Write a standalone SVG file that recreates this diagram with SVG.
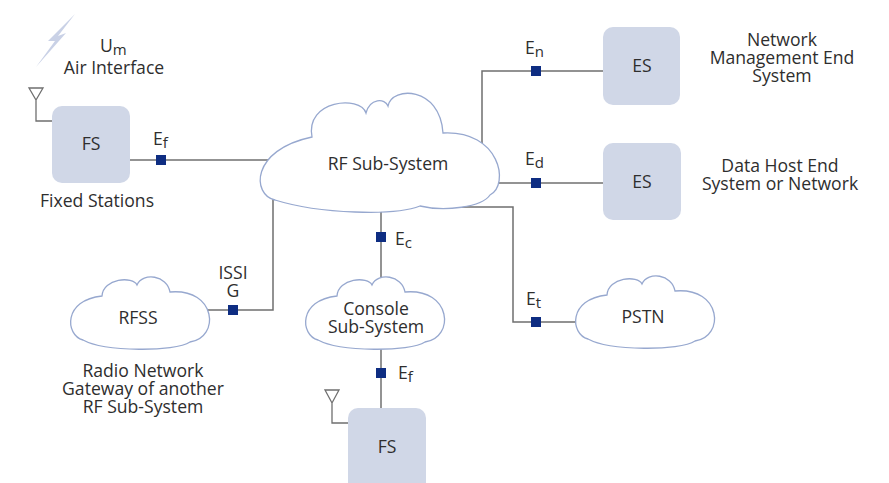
<svg xmlns="http://www.w3.org/2000/svg" xmlns:xlink="http://www.w3.org/1999/xlink" width="889" height="483" viewBox="0 0 889 483">
<style>
  text { font-family: "Open Sans", "Liberation Sans", sans-serif; font-size: 17.6px; fill: #2e2e2e; }
  .c { text-anchor: middle; }
  .sub { font-size: 15px; }
  .box { fill: #d0d7e7; }
  .cloud { fill: #ffffff; stroke: #97a8cf; stroke-width: 1.3; }
  .wire { fill: none; stroke: #6f6f6f; stroke-width: 1.5; }
  .port { fill: #0e2d82; }
  .ant { fill: none; stroke: #6f6f6f; stroke-width: 1.3; }
</style>
<defs>
  <path id="smallcloud" d="M318,340 C300,335 298,300 337,296 C338,278 368,276 372,285 C378,272 402,275 405,292 C452,288 455,338 425,342 C410,352 340,352 318,340 Z"/>
</defs>
<rect width="889" height="483" fill="#ffffff"/>

<g id="connectors">
  <path class="wire" d="M130,160 H290"/>
  <path class="wire" d="M273,190 V310 H200"/>
  <path class="wire" d="M381,190 V290"/>
  <path class="wire" d="M381,330 V408"/>
  <path class="wire" d="M482,150 V71 H603"/>
  <path class="wire" d="M470,183 H603"/>
  <path class="wire" d="M462,207 H513 V322 H590"/>
  <rect class="port" x="156" y="155" width="10" height="10"/>
  <rect class="port" x="531" y="66" width="10" height="10"/>
  <rect class="port" x="531" y="178" width="10" height="10"/>
  <rect class="port" x="376" y="232" width="10" height="10"/>
  <rect class="port" x="228" y="305" width="10" height="10"/>
  <rect class="port" x="376" y="368" width="10" height="10"/>
  <rect class="port" x="531" y="317" width="10" height="10"/>
  <text x="153" y="145">E<tspan class="sub" dy="3">f</tspan></text>
  <text x="525" y="54">E<tspan class="sub" dy="3">n</tspan></text>
  <text x="525" y="165">E<tspan class="sub" dy="3">d</tspan></text>
  <text x="395" y="245">E<tspan class="sub" dy="3">c</tspan></text>
  <text class="c" x="233" y="279">ISSI</text>
  <text class="c" x="233" y="297">G</text>
  <text x="398" y="379">E<tspan class="sub" dy="3">f</tspan></text>
  <text x="526" y="305">E<tspan class="sub" dy="3">t</tspan></text>
</g>

<g id="air-interface">
  <polygon fill="#c9d1e6" points="75,14 58,36 66,33 36,67 55,41 48,41"/>
  <text x="100" y="52">U<tspan class="sub" dy="3">m</tspan></text>
  <text class="c" x="114" y="74">Air Interface</text>
</g>

<g id="fs-fixed">
  <path class="ant" d="M29,88 H43 L36,100 Z M36,100 V121 H52"/>
  <rect class="box" x="52" y="106" width="78" height="77" rx="10"/>
  <text class="c" x="91" y="150">FS</text>
  <text class="c" x="97" y="207">Fixed Stations</text>
</g>

<g id="rf-subsystem">
  <path class="cloud" d="M275,200 C252,195 250,150 312,137 C305,100 360,95 366,113 C370,98 385,98 388,106 C392,86 440,86 443,133 C500,130 510,185 490,195 C482,207 445,212 420,206 C395,216 320,214 275,200 Z"/>
  <text class="c" x="388" y="170">RF Sub-System</text>
</g>

<g id="es-netmgmt">
  <rect class="box" x="603" y="27" width="77" height="78" rx="10"/>
  <text class="c" x="642" y="72">ES</text>
  <text class="c" x="782" y="46">Network</text>
  <text class="c" x="782" y="64">Management End</text>
  <text class="c" x="782" y="82">System</text>
</g>

<g id="es-datahost">
  <rect class="box" x="603" y="143" width="78" height="77" rx="10"/>
  <text class="c" x="642" y="188">ES</text>
  <text class="c" x="780" y="172">Data Host End</text>
  <text class="c" x="780" y="190">System or Network</text>
</g>

<g id="rfss">
  <use xlink:href="#smallcloud" class="cloud" transform="translate(-235,0)"/>
  <text class="c" x="138" y="324">RFSS</text>
  <text class="c" x="143" y="377">Radio Network</text>
  <text class="c" x="143" y="395">Gateway of another</text>
  <text class="c" x="143" y="413">RF Sub-System</text>
</g>

<g id="console">
  <use xlink:href="#smallcloud" class="cloud"/>
  <text class="c" x="376" y="315">Console</text>
  <text class="c" x="376" y="333">Sub-System</text>
</g>

<g id="pstn">
  <use xlink:href="#smallcloud" class="cloud" transform="translate(270,-1)"/>
  <text class="c" x="643" y="323">PSTN</text>
</g>

<g id="fs-console">
  <path class="ant" d="M325,390 H339 L332,403 Z M332,403 V423 H348"/>
  <rect class="box" x="348" y="408" width="78" height="85" rx="10"/>
  <text class="c" x="387" y="453">FS</text>
</g>
</svg>
